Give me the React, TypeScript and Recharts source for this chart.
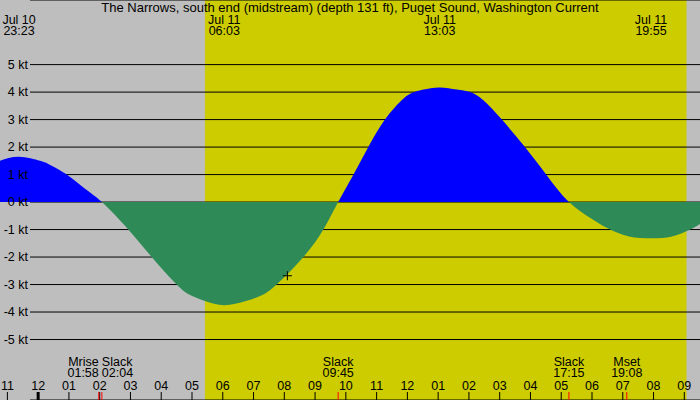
import {
  Area,
  CartesianGrid,
  ComposedChart,
  ReferenceArea,
  ReferenceDot,
  XAxis,
  YAxis,
} from "recharts";

const TITLE =
  "The Narrows, south end (midstream) (depth 131 ft), Puget Sound, Washington Current";

const CHART_W = 700;
const CHART_H = 400;

// all times are hours counted from Jul 10 00:00
const X_DOMAIN = [22.76, 45.51];
const Y_DOMAIN = [-7.2, 7.35];

const FLOW_HOURS = [
  22.76, 23.38, 24.06, 24.39, 24.93, 25.47, 26.07, 26.93, 27.69, 28.5, 28.94,
  29.42, 30.05, 30.75, 31.25, 31.75, 32.62, 33.27, 33.75, 34.25, 34.73, 35.27,
  35.87, 36.23, 36.52, 37.05, 37.6, 38.04, 38.47, 39.07, 39.82, 40.51, 41.25,
  42.05, 42.59, 43.2, 43.92, 44.6, 45.19, 45.51,
];
const FLOW_KT = [
  1.5, 1.65, 1.5, 1.35, 1.0, 0.53, 0, -1, -2, -3, -3.38, -3.6, -3.75, -3.6,
  -3.4, -3, -2, -1, 0, 1, 2, 3, 3.76, 4.0, 4.09, 4.17, 4.09, 4.0, 3.7, 3, 2, 1,
  0, -0.65, -1, -1.25, -1.32, -1.25, -1, -0.8,
];

const KT_TICKS = [-5, -4, -3, -2, -1, 0, 1, 2, 3, 4, 5];

const HOUR_TICKS = [
  23, 24, 25, 26, 27, 28, 29, 30, 31, 32, 33, 34, 35, 36, 37, 38, 39, 40, 41, 42,
  43, 44, 45,
];
const HOUR_LABELS = [
  "11", "12", "01", "02", "03", "04", "05", "06", "07", "08", "09", "10", "11",
  "12", "01", "02", "03", "04", "05", "06", "07", "08", "09",
];

const PEAK_HOURS = [23.38, 30.05, 37.05, 43.92];
const PEAK_DATES = ["Jul 10", "Jul 11", "Jul 11", "Jul 11"];
const PEAK_TIMES = ["23:23", "06:03", "13:03", "19:55"];

const EVENT_HOURS = [25.97, 26.07, 33.75, 41.25, 43.13];
const EVENT_NAMES = ["Mrise", "Slack", "Slack", "Slack", "Mset"];
const EVENT_TIMES = ["01:58", "02:04", "09:45", "17:15", "19:08"];

const SUNRISE = 29.42;
const SUNSET = 45.07;

const CURSOR_POINT = { hour: 32.1, kt: -2.68 };

const flowData = FLOW_HOURS.map((hour, i) => ({ hour, kt: FLOW_KT[i] }));
// flood above the zero line, ebb below it
const zeroOffset = Y_DOMAIN[1] / (Y_DOMAIN[1] - Y_DOMAIN[0]);

const FONT = '"Liberation Sans", Arial, sans-serif';
const TEXT_COLOR = "#000";
const LABEL_SIZE = 12.5;

function KtTick({ y, payload }: any) {
  return (
    <text x={28} y={y + 4} textAnchor="end" fontSize={LABEL_SIZE} fill={TEXT_COLOR}>
      {`${payload.value} kt`}
    </text>
  );
}

function HourTick({ x, payload }: any) {
  const i = HOUR_TICKS.indexOf(payload.value);
  const midnight = payload.value % 24 === 0;
  return (
    <g>
      <text x={x} y={390} textAnchor="middle" fontSize={LABEL_SIZE} fill={TEXT_COLOR}>
        {HOUR_LABELS[i]}
      </text>
      <line
        x1={x}
        x2={x}
        y1={392}
        y2={400}
        stroke="#000"
        strokeWidth={midnight ? 3 : 1}
      />
    </g>
  );
}

function EventTick({ x, payload }: any) {
  const i = EVENT_HOURS.indexOf(payload.value);
  const prev = EVENT_HOURS[i - 1];
  const next = EVENT_HOURS[i + 1];
  // push crowded labels apart
  let anchor = "middle";
  if (next !== undefined && next - payload.value < 0.5) anchor = "end";
  else if (prev !== undefined && payload.value - prev < 0.5) anchor = "start";
  return (
    <g>
      <text x={x} y={366} textAnchor={anchor} fontSize={LABEL_SIZE} fill={TEXT_COLOR}>
        {EVENT_NAMES[i]}
      </text>
      <text x={x} y={377} textAnchor={anchor} fontSize={LABEL_SIZE} fill={TEXT_COLOR}>
        {EVENT_TIMES[i]}
      </text>
      <line x1={x} x2={x} y1={392} y2={400} stroke="#ff0000" strokeWidth={1} />
    </g>
  );
}

function PeakTick({ x, payload }: any) {
  const i = PEAK_HOURS.indexOf(payload.value);
  return (
    <g>
      <text x={x} y={24} textAnchor="middle" fontSize={LABEL_SIZE} fill={TEXT_COLOR}>
        {PEAK_DATES[i]}
      </text>
      <text x={x} y={35} textAnchor="middle" fontSize={LABEL_SIZE} fill={TEXT_COLOR}>
        {PEAK_TIMES[i]}
      </text>
    </g>
  );
}

function Crosshair({ cx, cy }: any) {
  return (
    <path
      d={`M${cx - 4.5},${cy}H${cx + 4.5}M${cx},${cy - 4.5}V${cy + 4.5}`}
      stroke="#000"
      strokeWidth={1}
      fill="none"
    />
  );
}

export default function App() {
  return (
    <div
      style={{
        position: "absolute",
        left: 0,
        top: 0,
        width: CHART_W,
        height: CHART_H,
        background: "#bebebe",
        fontFamily: FONT,
      }}
    >
      <ComposedChart
        width={CHART_W}
        height={CHART_H}
        data={flowData}
        margin={{ top: 0, right: 0, bottom: 0, left: 0 }}
        style={{ fontFamily: FONT }}
      >
        <defs>
          <linearGradient
            id="flowFill"
            gradientUnits="userSpaceOnUse"
            x1={0}
            y1={0}
            x2={0}
            y2={CHART_H}
          >
            <stop offset={zeroOffset} stopColor="#0000ff" />
            <stop offset={zeroOffset} stopColor="#2e8b57" />
          </linearGradient>
        </defs>
        <ReferenceArea
          x1={SUNRISE}
          x2={SUNSET}
          fill="#cccc00"
          fillOpacity={1}
          stroke="none"
          ifOverflow="hidden"
          zIndex={-200}
        />
        <CartesianGrid
          vertical={false}
          stroke="#000"
          strokeOpacity={1}
          x={30}
          width={CHART_W - 30}
        />
        <XAxis
          dataKey="hour"
          type="number"
          domain={X_DOMAIN}
          allowDataOverflow
          ticks={HOUR_TICKS}
          interval={0}
          orientation="bottom"
          mirror
          axisLine={false}
          tickLine={false}
          tick={<HourTick />}
        />
        <XAxis
          xAxisId="events"
          dataKey="hour"
          type="number"
          domain={X_DOMAIN}
          allowDataOverflow
          ticks={EVENT_HOURS}
          interval={0}
          orientation="bottom"
          mirror
          axisLine={false}
          tickLine={false}
          tick={<EventTick />}
        />
        <XAxis
          xAxisId="peaks"
          dataKey="hour"
          type="number"
          domain={X_DOMAIN}
          allowDataOverflow
          ticks={PEAK_HOURS}
          interval={0}
          orientation="top"
          mirror
          axisLine={false}
          tickLine={false}
          tick={<PeakTick />}
        />
        <YAxis
          type="number"
          domain={Y_DOMAIN}
          allowDataOverflow
          ticks={KT_TICKS}
          interval={0}
          mirror
          axisLine={false}
          tickLine={false}
          tick={<KtTick />}
        />
        <Area
          dataKey="kt"
          type="natural"
          baseValue={0}
          stroke="none"
          fill="url(#flowFill)"
          fillOpacity={1}
          dot={false}
          activeDot={false}
          isAnimationActive={false}
        />
        <ReferenceDot
          x={CURSOR_POINT.hour}
          y={CURSOR_POINT.kt}
          shape={<Crosshair />}
        />
        <text x={CHART_W / 2} y={12} textAnchor="middle" fontSize={13} fill={TEXT_COLOR}>
          {TITLE}
        </text>
      </ComposedChart>
    </div>
  );
}
